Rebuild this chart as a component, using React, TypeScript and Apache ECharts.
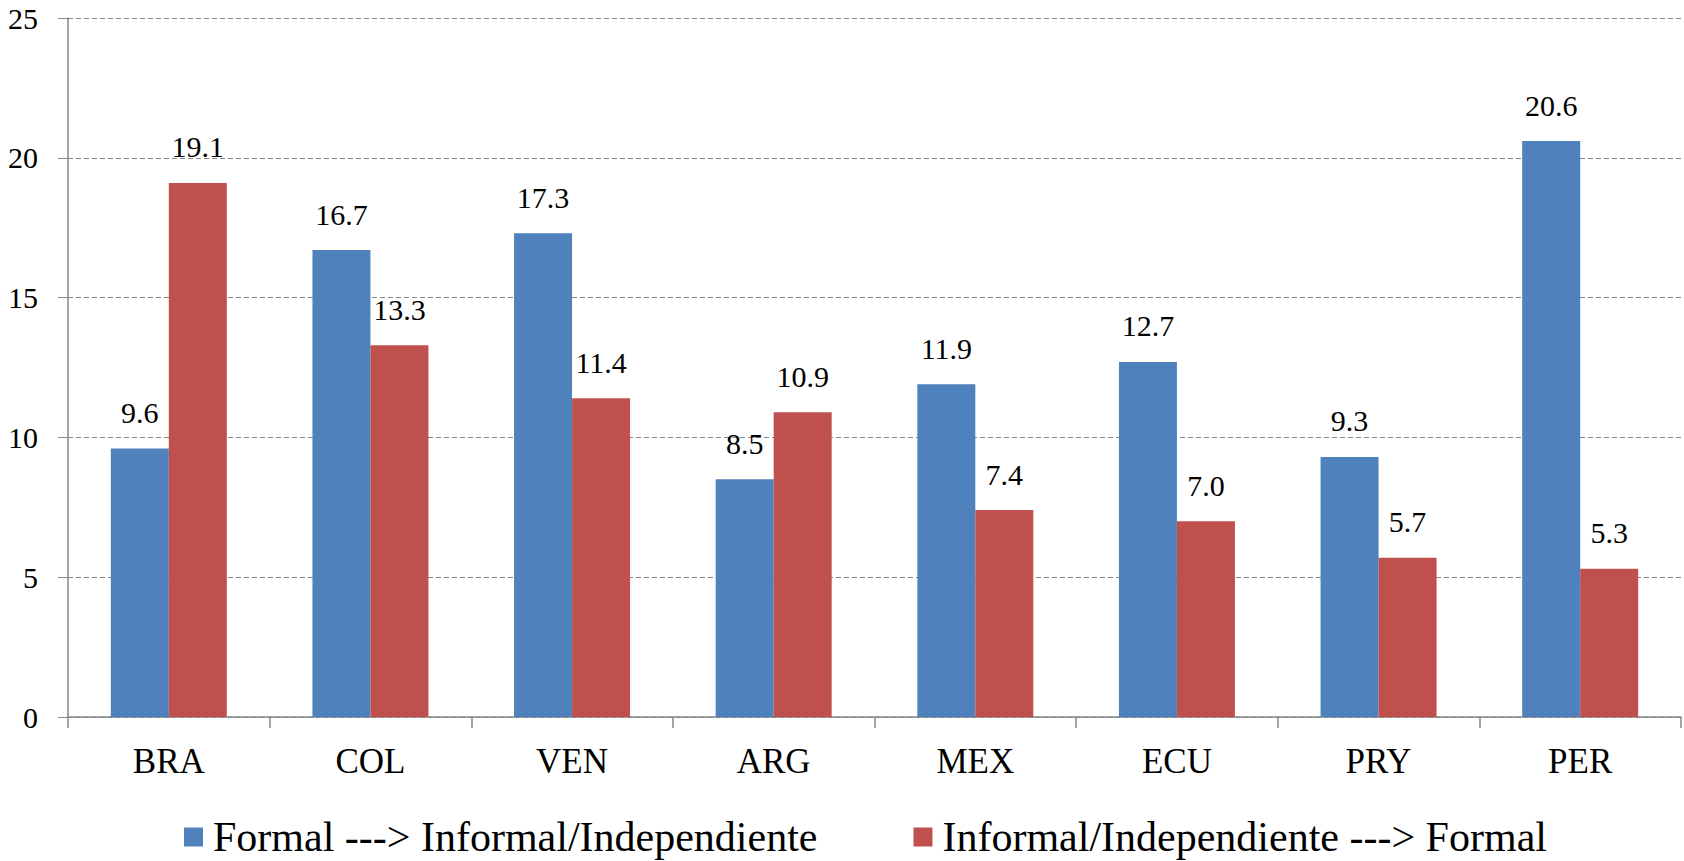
import React, { useEffect, useRef } from "react";
import * as echarts from "echarts";

const categories = ["BRA", "COL", "VEN", "ARG", "MEX", "ECU", "PRY", "PER"];
const formalToInformal = [9.6, 16.7, 17.3, 8.5, 11.9, 12.7, 9.3, 20.6];
const informalToFormal = [19.1, 13.3, 11.4, 10.9, 7.4, 7.0, 5.7, 5.3];
const seriesNames = [
  "Formal ---> Informal/Independiente",
  "Informal/Independiente ---> Formal",
];

const FONT = "Liberation Serif";

export default function App() {
  const ref = useRef<HTMLDivElement>(null);
  useEffect(() => {
    if (!ref.current) return;
    const chart = echarts.init(ref.current, null, { renderer: "svg" });
    const label = {
      show: true,
      position: "top" as const,
      distance: 21,
      color: "#000",
      fontFamily: FONT,
      fontSize: 30,
      formatter: (p: any) => Number(p.value).toFixed(1),
    };
    chart.setOption({
      animation: false,
      backgroundColor: "#fff",
      textStyle: { fontFamily: FONT },
      grid: { left: 68, right: 3, top: 18, bottom: 144, containLabel: false },
      legend: {
        left: 184,
        top: 816,
        padding: 0,
        icon: "rect",
        itemWidth: 19,
        itemHeight: 19,
        itemGap: 96,
        textStyle: { fontFamily: FONT, fontSize: 42, color: "#000", padding: [0, 0, 0, 5] },
        data: seriesNames,
      },
      xAxis: {
        type: "category",
        data: categories,
        axisLine: { show: true, lineStyle: { color: "#868686", width: 1.5 } },
        axisTick: { show: true, length: 11, lineStyle: { color: "#868686", width: 1.5 } },
        axisLabel: { fontFamily: FONT, fontSize: 35, color: "#000", margin: 27 },
      },
      yAxis: {
        type: "value",
        min: 0,
        max: 25,
        interval: 5,
        axisLine: { show: true, lineStyle: { color: "#868686", width: 1.5 } },
        axisTick: { show: true, length: 10, lineStyle: { color: "#868686", width: 1 } },
        axisLabel: { fontFamily: FONT, fontSize: 30, color: "#000", margin: 30 },
        splitLine: { show: true, lineStyle: { color: "#888", type: [5, 3], width: 1 } },
      },
      series: [
        {
          name: seriesNames[0],
          type: "bar",
          data: formalToInformal,
          barWidth: 58,
          barGap: "0%",
          itemStyle: { color: "#4F81BD" },
          label,
        },
        {
          name: seriesNames[1],
          type: "bar",
          data: informalToFormal,
          barWidth: 58,
          barGap: "0%",
          itemStyle: { color: "#C0504D" },
          label,
        },
      ],
    });
    return () => chart.dispose();
  }, []);
  return (
    <div
      ref={ref}
      style={{ position: "fixed", left: 0, top: 0, width: 1684, height: 861 }}
    />
  );
}
